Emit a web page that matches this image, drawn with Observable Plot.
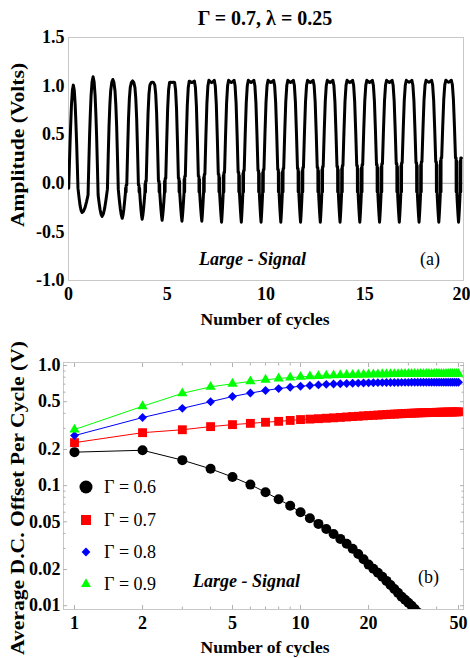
<!DOCTYPE html>
<html>
<head>
<meta charset="utf-8">
<script src="https://cdn.jsdelivr.net/npm/d3@7"></script>
<script src="https://cdn.jsdelivr.net/npm/@observablehq/plot@0.6"></script>
<style>
html,body{margin:0;padding:0;background:#fff;}
#wrap{position:relative;width:470px;height:658px;overflow:hidden;background:#fff;}
#wrap svg{position:absolute;left:0;}
</style>
</head>
<body>
<div id="wrap"></div>
<script>
// ---------------- Panel (a): waveform (Γ = 0.7, λ = 0.25) ----------------
const waveTitle = "Γ = 0.7, λ = 0.25";
const wavePeakPhase = 0.245;
const wavePeak       = [1.01, 1.10, 1.08, 1.07, 1.06, 1.06, 1.06, 1.06, 1.06, 1.06, 1.06, 1.06, 1.06, 1.06, 1.06, 1.06, 1.06, 1.06, 1.06, 1.06];
const waveTrough     = [-0.30, -0.34, -0.36, -0.37, -0.38, -0.39, -0.39, -0.40, -0.40, -0.40, -0.40, -0.40, -0.40, -0.40, -0.40, -0.40, -0.40, -0.40, -0.40, -0.40];
const waveTroughPhase= [0.69, 0.70, 0.72, 0.73, 0.74, 0.745, 0.75, 0.75, 0.75, 0.75, 0.75, 0.75, 0.75, 0.75, 0.75, 0.75, 0.75, 0.75, 0.75, 0.75];
const waveShoulder   = [-0.05, -0.12, -0.06, -0.02, 0.02, 0.05, 0.07, 0.09, 0.11, 0.13, 0.14, 0.15, 0.16, 0.17, 0.18, 0.19, 0.20, 0.21, 0.22, 0.26];
const waveLobeHalf   = [0.235, 0.255, 0.275, 0.295, 0.31, 0.32, 0.33, 0.34, 0.345, 0.35, 0.35, 0.35, 0.35, 0.35, 0.35, 0.35, 0.35, 0.35, 0.35, 0.35];
const waveRound      = [1, 0.85, 0.6, 0.4, 0.25, 0.12, 0.05, 0, 0, 0, 0, 0, 0, 0, 0, 0, 0, 0, 0, 0];
const waveFloor = -0.09;
// shape of one lobe / one trough
const lobeS      = [-1, -0.85, -0.7, -0.55, -0.4, -0.2, 0, 0.2, 0.4, 0.55, 0.7, 0.85, 1];
const lobeSquare = [0, 0.40, 0.75, 0.94, 1.0, 0.985, 0.975, 0.985, 1.0, 0.94, 0.75, 0.40, 0];
const lobeRound  = [0, 0.23, 0.45, 0.64, 0.81, 0.95, 1.0, 0.95, 0.81, 0.64, 0.45, 0.23, 0];
const vU     = [0, 0.25, 0.5, 0.75, 1];
const vSharp = [0, 0.30, 0.57, 0.81, 1];
const vRound = [0, 0.38, 0.71, 0.92, 1];
const ampTicks = [-1, -0.5, 0, 0.5, 1, 1.5];
const cycleTicksA = [0, 5, 10, 15];
const cycleTicksAEnd = [20];

// ---------------- Panel (b): average DC offset per cycle ----------------
const cycleN = [1,2,3,4,5,6,7,8,9,10,11,12,13,14,15,16,17,18,19,20,21,22,23,24,25,26,27,28,29,30,31,32,33,34,35,36,37,38,39,40,41,42,43,44,45,46,47,48,49,50];
const offsetG06 = [0.190,0.197,0.163,0.138,0.118,0.102,0.088,0.077,0.068,0.060,
                   0.0535,0.0480,0.0435,0.0395,0.0360,0.0328,0.0298,0.0270,0.0244,0.0220,
                   0.0203,0.0188,0.0174,0.0161,0.0149,0.0138,0.0128,0.0119,0.0112,0.0106,
                   0.0100,0.0094,0.0088,0.0083];
const offsetG07 = [0.228,0.276,0.292,0.310,0.322,0.330,0.337,0.343,0.349,0.355,
                   0.358,0.361,0.364,0.367,0.370,0.373,0.376,0.378,0.381,0.383,
                   0.385,0.387,0.389,0.391,0.393,0.394,0.396,0.397,0.399,0.400,
                   0.401,0.402,0.403,0.404,0.405,0.405,0.406,0.407,0.407,0.408,
                   0.408,0.409,0.409,0.410,0.410,0.410,0.411,0.411,0.411,0.412];
const offsetG08 = [0.261,0.369,0.440,0.500,0.552,0.590,0.620,0.643,0.660,0.672,
                   0.682,0.690,0.697,0.702,0.706,0.709,0.712,0.714,0.716,0.718,
                   0.719,0.720,0.721,0.722,0.722,0.723,0.723,0.724,0.724,0.724,
                   0.725,0.725,0.725,0.725,0.725,0.725,0.725,0.725,0.725,0.725,
                   0.725,0.725,0.725,0.725,0.725,0.725,0.725,0.725,0.725,0.725];
const offsetG09 = [0.293,0.458,0.587,0.665,0.705,0.738,0.762,0.780,0.794,0.805,
                   0.813,0.819,0.824,0.828,0.832,0.835,0.837,0.839,0.841,0.843,
                   0.844,0.845,0.846,0.847,0.848,0.849,0.849,0.850,0.850,0.851,
                   0.851,0.851,0.851,0.852,0.852,0.852,0.852,0.852,0.852,0.852,
                   0.853,0.853,0.853,0.853,0.853,0.853,0.853,0.853,0.853,0.853];
const gammaLabels  = ["Γ = 0.6", "Γ = 0.7", "Γ = 0.8", "Γ = 0.9"];
const seriesColors = ["#000000", "#ff0000", "#0000ff", "#00ff00"];
const seriesSymbols= ["circle", "square", "diamond2", "triangle"];
const seriesR      = [5, 5, 4, 3.8];
const cycleTicksB  = [1, 2, 5, 10, 20, 50];
const minorTicksB  = [3, 4, 6, 7, 8, 9, 30, 40];
const offsetTicks  = [0.01, 0.02, 0.05, 0.1, 0.2, 0.5, 1];
const offsetTickLabels = ["0.01", "0.02", "0.05", "0.1", "0.2", "0.5", "1.0"];
const minorOffset  = [0.03, 0.04, 0.06, 0.07, 0.08, 0.09, 0.3, 0.4, 0.6, 0.7, 0.8, 0.9];

// ---------------- build waveform table ----------------
function buildWave() {
  const pts = [];
  const n = wavePeak.length;
  let lastRs = 0, lastU = 0;
  for (let c = 0; c < n; c++) {
    const pc = c + wavePeakPhase, hl = waveLobeHalf[c], U = waveShoulder[c], P = wavePeak[c], w = waveRound[c];
    lobeS.forEach((s, i) => pts.push({t: pc + s * hl, v: U + (P - U) * (w * lobeRound[i] + (1 - w) * lobeSquare[i])}));
    const c2 = Math.min(c + 1, n - 1);
    const ls = pc + hl, rs = c + 1 + wavePeakPhase - waveLobeHalf[c2];
    const U2 = waveShoulder[c2], T = waveTrough[c], tt = c + waveTroughPhase[c];
    let a = ls, b = rs, La = U, Lb = U2;
    if (U > waveFloor + 0.04) {
      pts.push({t: ls + 0.03, v: U});
      pts.push({t: ls + 0.035, v: waveFloor});
      pts.push({t: ls + 0.06, v: U - 0.03});
      a = ls + 0.065; La = waveFloor; pts.push({t: a, v: La});
    }
    if (U2 > waveFloor + 0.04) { b = rs - 0.065; Lb = waveFloor; }
    for (let i = 1; i < vU.length; i++) {
      const f = w * vRound[i] + (1 - w) * vSharp[i];
      pts.push({t: a + (tt - a) * vU[i], v: La + (T - La) * f});
    }
    for (let i = vU.length - 2; i >= 0; i--) {
      const f = w * vRound[i] + (1 - w) * vSharp[i];
      pts.push({t: b - (b - tt) * vU[i], v: Lb + (T - Lb) * f});
    }
    if (U2 > waveFloor + 0.04) {
      pts.push({t: rs - 0.06, v: U2 - 0.03});
      pts.push({t: rs - 0.035, v: waveFloor});
      pts.push({t: rs - 0.03, v: U2});
    }
    lastRs = rs; lastU = U2;
  }
  pts.push({t: lastRs, v: lastU});
  return pts;
}
const wave = buildWave();

const fmtAmp = d => (d < 0 ? "-" : "") + Math.abs(d).toFixed(1);
const fontStyle = {fontFamily: "'Liberation Serif', 'Times New Roman', serif", fontSize: "18px", fontWeight: "bold", background: "transparent", overflow: "visible", color: "#000"};

const wrap = document.getElementById("wrap");

// ---------- Panel (a) ----------
const plotA = Plot.plot({
  width: 470, height: 335,
  marginLeft: 68, marginRight: 7, marginTop: 37, marginBottom: 55,
  x: {domain: [0, 20]},
  y: {domain: [-1, 1.5]},
  style: fontStyle,
  marks: [
    Plot.frame({stroke: "#c8c8c8"}),
    Plot.ruleY([0], {stroke: "#a8a8a8", strokeWidth: 1}),
    Plot.line(wave, {x: "t", y: "v", stroke: "#000", strokeWidth: 3, strokeLinejoin: "round", clip: true}),
    Plot.axisX({ticks: cycleTicksA, tickSize: 0, tickPadding: 7, label: null, tickFormat: d => String(d)}),
    Plot.axisX({ticks: cycleTicksAEnd, tickSize: 0, tickPadding: 7, label: null, tickFormat: d => String(d), dx: -2}),
    Plot.axisY({ticks: ampTicks, tickSize: 0, tickPadding: 4, label: null, tickFormat: fmtAmp})
  ]
});
plotA.style.top = "0px";
wrap.appendChild(plotA);

// ---------- Panel (b) ----------
const seriesValues = [offsetG06, offsetG07, offsetG08, offsetG09];
const marksB = [Plot.frame({stroke: "#c8c8c8"})];
const inTick = (axis, anchor, ticks, size) => axis({anchor, ticks, tickSize: -size, tickFormat: () => "", label: null, stroke: "#b0b0b0"});
marksB.push(
  inTick(Plot.axisX, "bottom", cycleTicksB, 4), inTick(Plot.axisX, "bottom", minorTicksB, 2.5),
  inTick(Plot.axisX, "top", cycleTicksB, 4), inTick(Plot.axisX, "top", minorTicksB, 2.5),
  inTick(Plot.axisY, "left", offsetTicks, 4), inTick(Plot.axisY, "left", minorOffset, 2.5),
  inTick(Plot.axisY, "right", offsetTicks, 4), inTick(Plot.axisY, "right", minorOffset, 2.5)
);
seriesValues.forEach((vals, k) => {
  const rows = vals.map((v, i) => ({n: cycleN[i], v}));
  marksB.push(Plot.line(rows, {x: "n", y: "v", stroke: seriesColors[k], strokeWidth: 1, clip: true}));
  marksB.push(Plot.dot(rows, {x: "n", y: "v", symbol: () => seriesSymbols[k], fill: seriesColors[k], stroke: "none", r: seriesR[k], clip: true}));
});
marksB.push(
  Plot.axisX({ticks: cycleTicksB, tickSize: 0, tickPadding: 7, label: null, tickFormat: d => String(d)}),
  Plot.axisY({ticks: offsetTicks, tickSize: 0, tickPadding: 3, label: null, tickFormat: d => offsetTickLabels[offsetTicks.indexOf(d)]})
);
const plotB = Plot.plot({
  width: 470, height: 323,
  marginLeft: 63, marginRight: 7, marginTop: 27, marginBottom: 49,
  x: {type: "log", domain: [0.894, 52.6]},
  y: {type: "log", domain: [0.0093, 1.06]},
  symbol: {type: "identity"},
  style: fontStyle,
  marks: marksB
});
plotB.style.top = "335px";
wrap.appendChild(plotB);

// ---------- overlay: titles, axis labels, annotations, legend ----------
const ov = d3.select(wrap).append("svg")
  .attr("width", 470).attr("height", 658)
  .style("top", "0px").style("pointer-events", "none")
  .style("font-family", "'Liberation Serif', 'Times New Roman', serif");

ov.append("text").attr("x", 265).attr("y", 25).attr("text-anchor", "middle")
  .attr("font-size", 20).attr("font-weight", "bold").text(waveTitle);

const xlab = (y) => ov.append("text").attr("x", 265).attr("y", y).attr("text-anchor", "middle")
  .attr("font-size", 17.5).attr("font-weight", "bold").text("Number of cycles");
xlab(325); xlab(653);

const ylab = (cy, txt) => ov.append("text")
  .attr("transform", `translate(18,${cy}) rotate(-90) scale(1.2,1)`)
  .attr("text-anchor", "middle").attr("dominant-baseline", "central")
  .attr("font-size", 18).attr("font-weight", "bold").text(txt);
ylab(145, "Amplitude (Volts)");
ylab(498, "Average D.C. Offset Per Cycle (V)");

const note = (x, y, txt, italic) => ov.append("text").attr("x", x).attr("y", y)
  .attr("font-size", 18).attr("font-weight", italic ? "bold" : "normal")
  .attr("font-style", italic ? "italic" : "normal").text(txt);
note(199, 265, "Large - Signal", true);
note(420, 265, "(a)", false);
note(193, 587, "Large - Signal", true);
note(418, 583, "(b)", false);

const legendY = [487, 520, 552, 584];
const legendSize = [133, 100, 50, 43];
const d3sym = {circle: d3.symbolCircle, square: d3.symbolSquare, diamond2: d3.symbolDiamond2, triangle: d3.symbolTriangle};
gammaLabels.forEach((lab, k) => {
  ov.append("path").attr("transform", `translate(86,${legendY[k]})`)
    .attr("d", d3.symbol(d3sym[seriesSymbols[k]], legendSize[k])()).attr("fill", seriesColors[k]);
  ov.append("text").attr("x", 104).attr("y", legendY[k]).attr("dominant-baseline", "central")
    .attr("font-size", 18).text(lab);
});
</script>
</body>
</html>
